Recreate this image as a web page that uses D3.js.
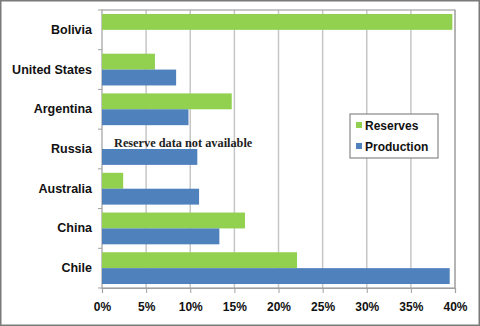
<!DOCTYPE html>
<html><head><meta charset="utf-8">
<script src="https://cdn.jsdelivr.net/npm/d3@7"></script>
<style>body{margin:0;background:#fff}svg{display:block}</style>
</head><body>
<svg id="c" width="480" height="326"></svg>
<script>
const categories = ["Bolivia","United States","Argentina","Russia","Australia","China","Chile"];
const reserves   = [39.7, 6.0, 14.7, null, 2.4, 16.2, 22.1];
const production = [null, 8.4, 9.8, 10.8, 11.0, 13.3, 39.4];
const seriesNames = ["Reserves","Production"];
const xTicks = [0,5,10,15,20,25,30,35,40];
const note = "Reserve data not available";

const colors = {Reserves:"#92D050", Production:"#4F81BD"};
const svg = d3.select("#c");
const m = {l:102, r:455, t:10, b:288};

svg.append("rect").attr("x",0.75).attr("y",0.75).attr("width",478.5).attr("height",324.5)
  .attr("fill","#fff").attr("stroke","#7a7a7a").attr("stroke-width",1.5);

const x = d3.scaleLinear().domain([0,40]).range([m.l,m.r]);
const y = d3.scaleBand().domain(categories).range([m.t,m.b]).paddingInner(0).paddingOuter(0);
const y1 = d3.scaleBand().domain(seriesNames).range([0,y.bandwidth()]).paddingOuter(0.25);

// gridlines
svg.append("g").selectAll("line").data(xTicks.slice(1)).join("line")
  .attr("x1",d=>x(d)).attr("x2",d=>x(d)).attr("y1",m.t).attr("y2",m.b)
  .attr("stroke","#c6c6c6").attr("stroke-width",1.5);
// plot border
svg.append("rect").attr("x",m.l).attr("y",m.t).attr("width",m.r-m.l).attr("height",m.b-m.t)
  .attr("fill","none").attr("stroke","#a0a0a0").attr("stroke-width",1.2);

const rows = categories.map((c,i)=>({c, vals:[{s:"Reserves",v:reserves[i]},{s:"Production",v:production[i]}]}));
const g = svg.append("g").selectAll("g").data(rows).join("g").attr("transform",d=>`translate(0,${y(d.c)})`);
g.selectAll("rect").data(d=>d.vals.filter(e=>e.v!=null)).join("rect")
  .attr("x",x(0)).attr("y",d=>y1(d.s)).attr("width",d=>x(d.v)-x(0)).attr("height",y1.bandwidth())
  .attr("fill",d=>colors[d.s]);

// axes
const xa = svg.append("g").attr("transform",`translate(0,${m.b})`)
  .call(d3.axisBottom(x).tickValues(xTicks).tickFormat(d=>d+"%").tickSize(5).tickPadding(9));
xa.select(".domain").attr("stroke","#a0a0a0").attr("stroke-width",1.2);
xa.selectAll(".tick line").attr("stroke","#a0a0a0");
xa.selectAll("text").attr("font-family","Liberation Sans, Arial, sans-serif").attr("font-weight","bold")
  .attr("font-size",12).attr("fill","#111");

const ya = svg.append("g").attr("transform",`translate(${m.l},0)`)
  .call(d3.axisLeft(y).tickSize(0).tickPadding(10));
ya.select(".domain").remove();
ya.selectAll("text").attr("font-family","Liberation Sans, Arial, sans-serif").attr("font-weight","bold")
  .attr("font-size",12.5).attr("fill","#111");
// category boundary ticks
svg.append("g").selectAll("line").data(d3.range(categories.length+1)).join("line")
  .attr("x1",m.l-4).attr("x2",m.l).attr("y1",i=>m.t+i*y.step()).attr("y2",i=>m.t+i*y.step())
  .attr("stroke","#a0a0a0");

// note for Russia
svg.append("text").attr("x",x(0)+12).attr("y",y("Russia")+y1("Reserves")+y1.bandwidth()-2)
  .attr("font-family","Liberation Serif, serif").attr("font-weight","bold").attr("font-size",12.3)
  .attr("fill","#222").text(note);

// legend
const lg = svg.append("g").attr("transform","translate(350,114)");
lg.append("rect").attr("width",88).attr("height",44).attr("fill","#fff").attr("stroke","#888").attr("stroke-width",1.2);
seriesNames.forEach((s,i)=>{
  lg.append("rect").attr("x",6).attr("y",8+i*21).attr("width",6).attr("height",6).attr("fill",colors[s]);
  lg.append("text").attr("x",15).attr("y",15.5+i*21).attr("font-family","Liberation Sans, Arial, sans-serif")
    .attr("font-weight","bold").attr("font-size",12).attr("fill","#111").text(s);
});
</script>
</body></html>
